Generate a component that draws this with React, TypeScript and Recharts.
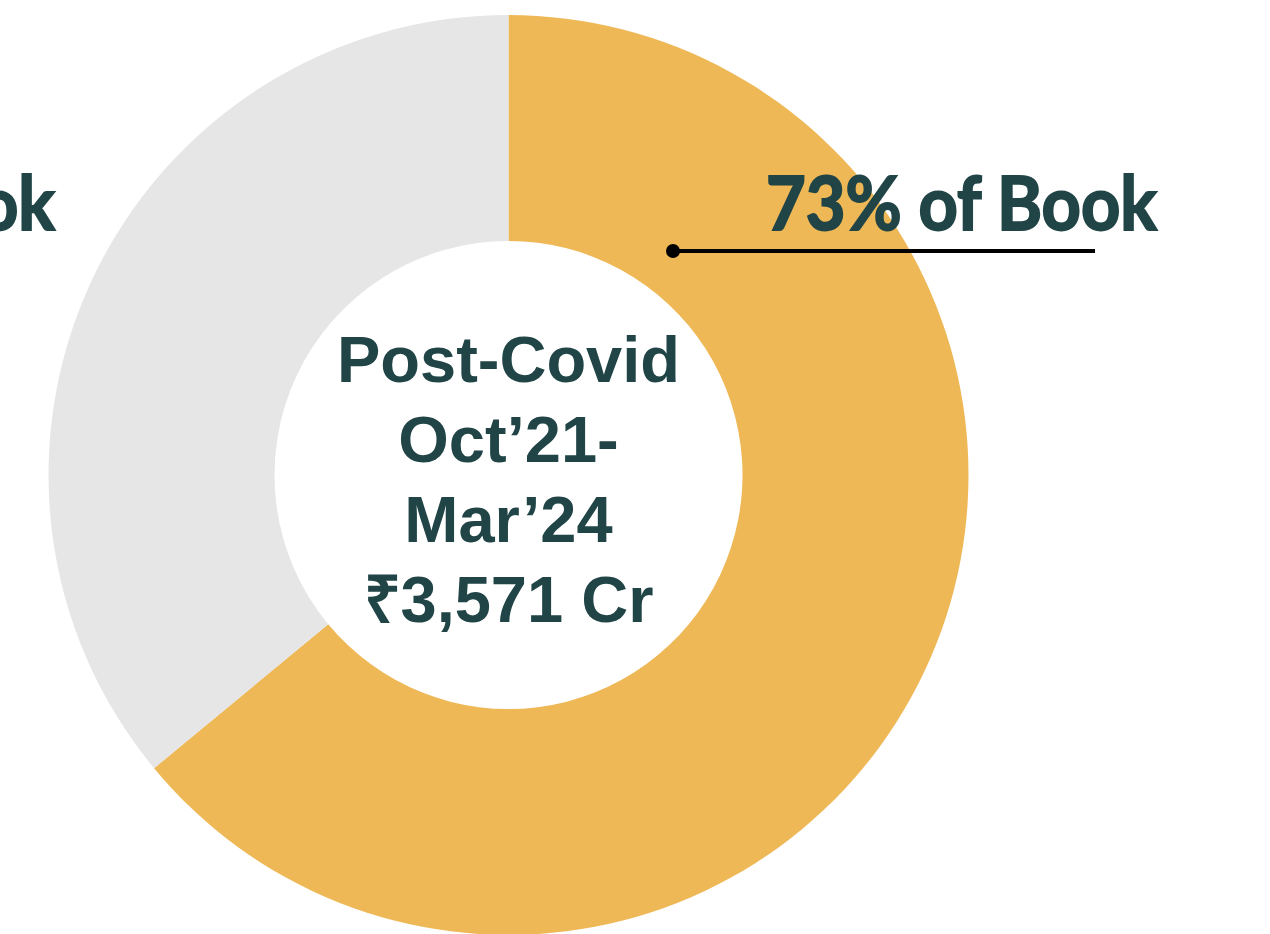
// Donut: share of book, post-Covid period (Oct'21 – Mar'24)

import { Pie, PieChart, Cell } from "recharts";

const segments = ["Post-Covid", "Other"];
const segmentValues = [64, 36];
const shareLabels = ["73% of Book", "27% of Book"];
const centerLines = ["Post-Covid", "Oct\u201921-", "Mar\u201924", "\u20B93,571 Cr"];

const COLORS = ["#EFB857", "#E6E6E6"];
const TEXT = "#214547";

const data = segments.map((name, i) => ({ name, value: segmentValues[i] }));

const W = 1270;
const H = 934;
const CX = 508.5;
const CY = 475;

// drawn on top of the pie (Customized ends up under the sectors in v3)
function Annotations() {
  const labelStyle = {
    fill: TEXT,
    stroke: TEXT,
    strokeWidth: 2,
    fontFamily: "Lato, sans-serif",
    fontWeight: 700,
    fontSize: 74,
  };
  return (
    <svg
      width={W}
      height={H}
      style={{ position: "absolute", left: 0, top: 0, pointerEvents: "none" }}
    >
      <text
        x={CX}
        y={382}
        textAnchor="middle"
        fill={TEXT}
        fontFamily="'Liberation Sans', Arial, sans-serif"
        fontWeight={700}
        fontSize={65}
      >
        {centerLines.map((line, i) => (
          <tspan key={line} x={CX} dy={i === 0 ? 0 : 80}>
            {line}
          </tspan>
        ))}
      </text>

      <text x={766} y={230} style={labelStyle} textLength={391} lengthAdjust="spacingAndGlyphs">
        {shareLabels[0]}
      </text>
      <line x1={673} y1={251} x2={1095} y2={251} stroke="#000" strokeWidth={4} />
      <circle cx={673} cy={251} r={7} fill="#000" />

      <text x={55 - 391} y={230} style={labelStyle} textLength={391} lengthAdjust="spacingAndGlyphs">
        {shareLabels[1]}
      </text>
    </svg>
  );
}

export default function App() {
  return (
    <div style={{ position: "absolute", left: 0, top: 0, width: W, height: H, background: "#fff", overflow: "hidden" }}>
      <PieChart width={W} height={H} margin={{ top: 0, right: 0, bottom: 0, left: 0 }}>
        <Pie
          data={data}
          dataKey="value"
          nameKey="name"
          cx={CX}
          cy={CY}
          innerRadius={234}
          outerRadius={460}
          startAngle={90}
          endAngle={-270}
          stroke="none"
          isAnimationActive={false}
        >
          {data.map((d, i) => (
            <Cell key={d.name} fill={COLORS[i]} />
          ))}
        </Pie>
      </PieChart>
      <Annotations />
    </div>
  );
}
